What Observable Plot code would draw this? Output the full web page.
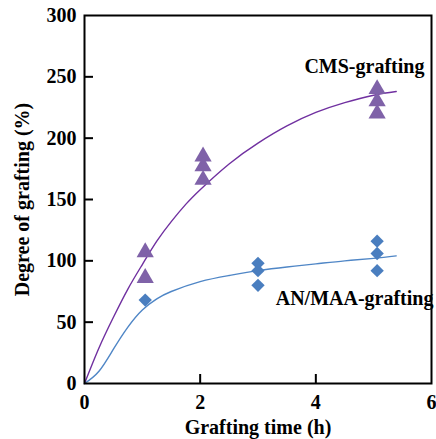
<!DOCTYPE html>
<html><head><meta charset="utf-8">
<script src="https://cdn.jsdelivr.net/npm/d3@7"></script>
<script src="https://cdn.jsdelivr.net/npm/@observablehq/plot@0.6"></script>
<style>html,body{margin:0;padding:0;background:#fff;}
svg text{font-family:"Liberation Serif","Times New Roman",serif !important;font-weight:bold;}</style>
</head><body><div id="chart"></div>
<script>
// Measured points
const cmsTime = [1.05, 1.05, 2.05, 2.05, 2.05, 5.06, 5.06, 5.06];
const cmsValue = [107, 86, 185, 177, 166, 240, 230, 220];
const anTime = [1.05, 3.0, 3.0, 3.0, 5.06, 5.06, 5.06];
const anValue = [68, 98, 92, 80, 116, 106, 92];
// Fitted curves
const cmsCurveT = [0, 0.25, 0.5, 0.75, 1, 1.25, 1.5, 1.75, 2, 2.5, 3, 3.5, 4, 4.5, 5, 5.39];
const cmsCurveV = [0, 29, 54, 77, 97, 116, 132, 146, 158, 179, 196, 210, 221, 229, 235, 238];
const anCurveT = [0, 0.25, 0.5, 0.75, 1, 1.25, 1.5, 2, 2.5, 3, 3.5, 4, 4.5, 5, 5.39];
const anCurveV = [0, 10, 28, 46, 60, 69, 75, 83, 88, 92, 95, 97.5, 100, 102, 104];
const xTicks = [0, 2, 4, 6];
const yTicks = [0, 50, 100, 150, 200, 250, 300];
const labels = ["CMS-grafting", "AN/MAA-grafting"];
const xTitle = "Grafting time (h)";
const yTitle = "Degree of grafting (%)";

const cms = cmsTime.map((t, i) => ({t, v: cmsValue[i]}));
const an = anTime.map((t, i) => ({t, v: anValue[i]}));
const cmsCurve = cmsCurveT.map((t, i) => ({t, v: cmsCurveV[i]}));
const anCurve = anCurveT.map((t, i) => ({t, v: anCurveV[i]}));

const W = 436, H = 439, mL = 84, mR = 5, mT = 15, mB = 56;
const plotW = W - mL - mR, plotH = H - mT - mB;
const FF = "Liberation Serif";

const chart = Plot.plot({
  width: W, height: H,
  marginLeft: mL, marginRight: mR, marginTop: mT, marginBottom: mB,
  style: "font-family: 'Liberation Serif', serif; font-size: 19px; font-weight: bold; color: black; background: white;",
  x: {domain: [0, 6]},
  y: {domain: [0, 300]},
  marks: [
    Plot.line(cmsCurve, {x: "t", y: "v", curve: "natural", stroke: "#7030A0", strokeWidth: 1.4}),
    Plot.line(anCurve, {x: "t", y: "v", curve: "natural", stroke: "#4F86C6", strokeWidth: 1.4}),
    Plot.dot(cms, {x: "t", y: "v", symbol: "triangle", r: 6.4, fill: "#7F62A8", stroke: "none"}),
    Plot.dot(an, {x: "t", y: "v", symbol: "diamond2", r: 6, fill: "#4A7EBF", stroke: "none"}),
    Plot.tickY(yTicks.slice(1, -1), {y: d => d, stroke: "black", strokeWidth: 2, insetRight: plotW - 9}),
    Plot.tickX(xTicks.slice(1, -1), {x: d => d, stroke: "black", strokeWidth: 2, insetTop: plotH - 9}),
    Plot.axisY({ticks: yTicks, tickSize: 0, tickPadding: 8, tickFormat: d => String(d), label: null, fontSize: 20, fontFamily: FF}),
    Plot.axisX({ticks: xTicks, tickSize: 0, tickPadding: 11, tickFormat: d => String(d), label: null, fontSize: 20, fontFamily: FF}),
    Plot.frame({stroke: "black", strokeWidth: 2}),
    Plot.text([labels[0]], {x: 4.84, y: 258, text: d => d, fontSize: 20, fontWeight: "bold", fontFamily: FF, fill: "black"}),
    Plot.text([labels[1]], {x: 4.67, y: 69.6, text: d => d, fontSize: 20, fontWeight: "bold", fontFamily: FF, fill: "black"}),
    Plot.text([xTitle], {frameAnchor: "bottom", dy: 44, lineAnchor: "middle", textAnchor: "middle", text: d => d, fontSize: 20, fontWeight: "bold", fontFamily: FF, fill: "black"}),
    Plot.text([yTitle], {frameAnchor: "left", dx: -62, rotate: -90, lineAnchor: "middle", textAnchor: "middle", text: d => d, fontSize: 20, fontWeight: "bold", fontFamily: FF, fill: "black"})
  ]
});
document.getElementById("chart").appendChild(chart);
</script>
</body></html>
